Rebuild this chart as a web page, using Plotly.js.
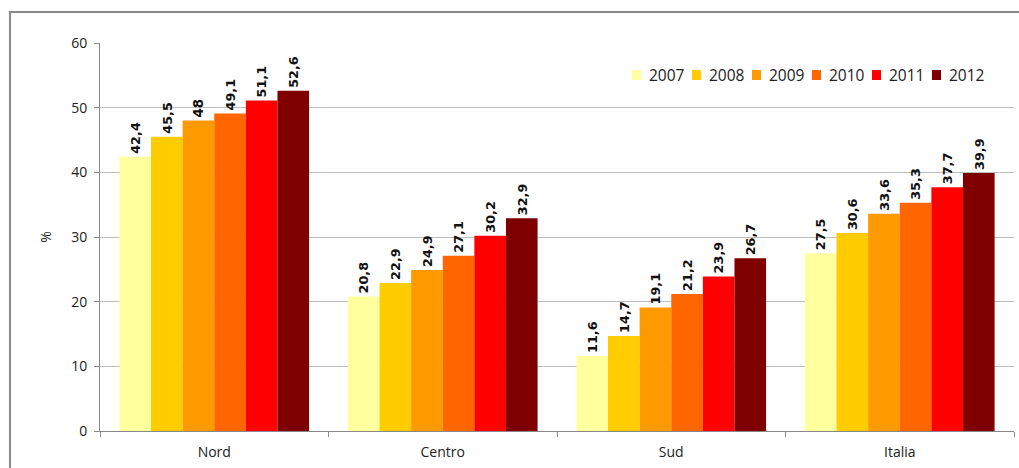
<!DOCTYPE html>
<html><head><meta charset="utf-8">
<script src="https://cdn.plot.ly/plotly-3.0.1.min.js"></script>
<style>body{margin:0;background:#fff}#c{width:1019px;height:468px}</style>
</head><body><div id="c"></div>
<script>
const categories = ["Nord", "Centro", "Sud", "Italia"];
const years = ["2007", "2008", "2009", "2010", "2011", "2012"];
const v2007 = [42.4, 20.8, 11.6, 27.5];
const v2008 = [45.5, 22.9, 14.7, 30.6];
const v2009 = [48, 24.9, 19.1, 33.6];
const v2010 = [49.1, 27.1, 21.2, 35.3];
const v2011 = [51.1, 30.2, 23.9, 37.7];
const v2012 = [52.6, 32.9, 26.7, 39.9];
const colors = ["#FFFF9E", "#FFCC00", "#FF9900", "#FF6600", "#FF0000", "#7F0000"];
const series = [v2007, v2008, v2009, v2010, v2011, v2012];

const traces = series.map((vals, i) => ({
  type: "bar",
  name: years[i],
  x: categories,
  y: vals,
  marker: {color: colors[i], line: {width: 0}},
  text: vals.map(v => String(v).replace(".", ",")),
  textposition: "outside",
  textangle: -90,
  cliponaxis: false,
  textfont: {family: "DejaVu Sans", size: 13.5, color: "#111", weight: "bold"},
  hoverinfo: "none",
  showlegend: false
}));

// plot area geometry (pixels) for converting legend placement to paper coords
const W = 1019, H = 468, ML = 100, MR = 5, MT = 43, MB = 37;
const pw = W - ML - MR, ph = H - MT - MB;
const px = x => (x - ML) / pw;
const py = y => (H - MB - y) / ph;

const shapes = [{
  type: "rect", xref: "paper", yref: "paper",
  x0: px(10), x1: px(1040), y0: py(490), y1: py(12),
  line: {color: "#8a8a8a", width: 2}, fillcolor: "rgba(0,0,0,0)", layer: "below"
}];
const annotations = [];
const legX = 632, legY = 75, pitch = 60;
years.forEach((yr, i) => {
  const x0 = legX + pitch * i;
  shapes.push({
    type: "rect", xref: "paper", yref: "paper",
    x0: px(x0), x1: px(x0 + 9), y0: py(legY + 5), y1: py(legY - 5),
    line: {width: 0}, fillcolor: colors[i]
  });
  annotations.push({
    xref: "paper", yref: "paper", x: px(x0 + 15), y: py(legY),
    xanchor: "left", yanchor: "middle", showarrow: false,
    text: yr, font: {size: 15.5, color: "#222"}
  });
});

const layout = {
  width: W, height: H,
  margin: {l: ML, r: MR, t: MT, b: MB},
  paper_bgcolor: "#fff", plot_bgcolor: "#fff",
  barmode: "group", bargap: 0.17, bargroupgap: 0,
  font: {family: "Open Sans", size: 14, color: "#222"},
  xaxis: {
    type: "category", tickson: "boundaries", ticks: "outside", ticklen: 5,
    tickcolor: "#888", showline: true, linecolor: "#888", linewidth: 1,
    showgrid: false, tickfont: {size: 14, color: "#222"}, ticklabelstandoff: 8,
    fixedrange: true
  },
  yaxis: {
    range: [0, 60], dtick: 10, ticks: "outside", ticklen: 5, tickcolor: "#888",
    showline: true, linecolor: "#888", linewidth: 1,
    showgrid: true, gridcolor: "#bdbdbd", gridwidth: 1, zeroline: false,
    tickfont: {size: 14, color: "#222"}, ticklabelstandoff: 4,
    title: {text: "%", font: {size: 14, color: "#222"}, standoff: 16}
  },
  showlegend: false,
  shapes: shapes,
  annotations: annotations
};
Plotly.newPlot("c", traces, layout, {displayModeBar: false, staticPlot: true});
</script></body></html>
